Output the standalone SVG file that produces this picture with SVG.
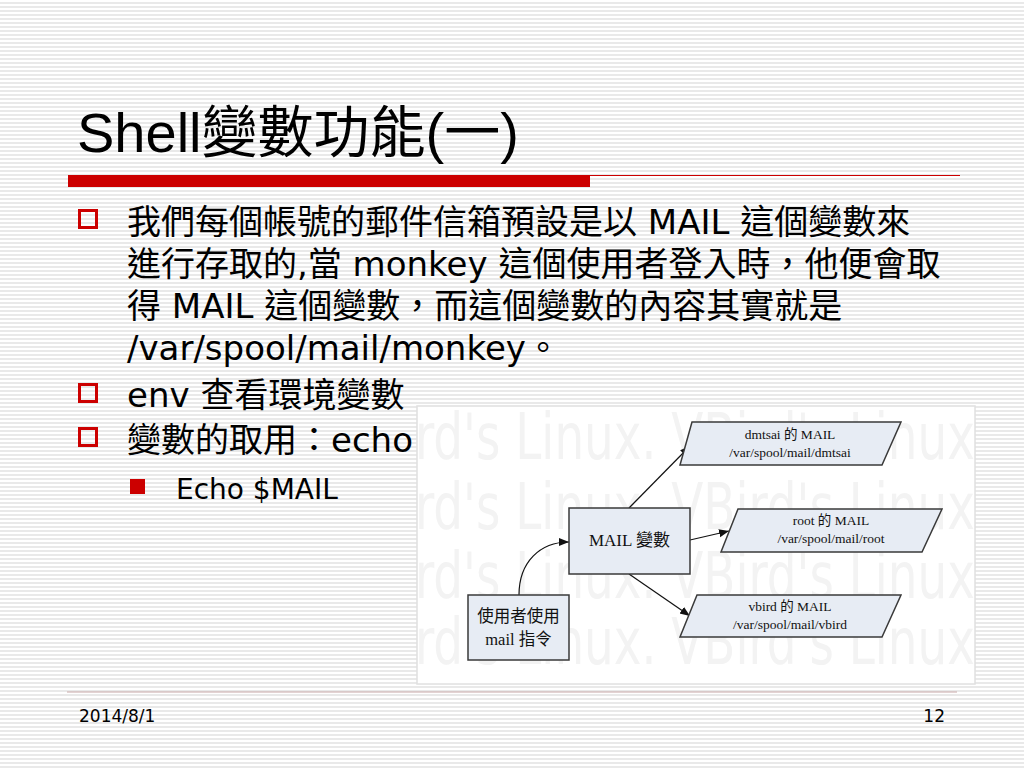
<svg xmlns="http://www.w3.org/2000/svg" width="1024" height="768" viewBox="0 0 1024 768">
<defs>
<pattern id="stripes" x="0" y="0" width="8" height="4" patternUnits="userSpaceOnUse">
<rect x="0" y="0" width="8" height="4" fill="#ffffff"/>
<rect x="0" y="2" width="8" height="2" fill="#e9e9e9"/>
</pattern>
<marker id="arr" viewBox="0 0 10 10" refX="10" refY="5" markerWidth="10" markerHeight="10" markerUnits="userSpaceOnUse" orient="auto">
<path d="M0,1 L10,5 L0,9 Z" fill="#111111"/>
</marker>
<clipPath id="picClip"><rect x="417" y="406" width="558" height="278"/></clipPath>
</defs>
<style>
.title{font-family:"Liberation Sans","Noto Sans CJK TC",sans-serif;font-size:56px;fill:#000}
.body{font-family:"DejaVu Sans","Noto Sans CJK TC",sans-serif;font-size:34px;fill:#000}
.sub{font-family:"DejaVu Sans","Noto Sans CJK TC",sans-serif;font-size:28px;fill:#000}
.foot{font-family:"DejaVu Sans",sans-serif;font-size:17px;fill:#000}
.node{fill:#e7ecf4;stroke:#3a3a3a;stroke-width:1.5}
.lbl{font-family:"Liberation Serif","Noto Sans CJK TC",serif;font-size:13.5px;fill:#111;text-anchor:middle}
.big{font-family:"Liberation Serif","Noto Sans CJK TC",serif;font-size:17px;fill:#111;text-anchor:middle}
.wm{font-family:"DejaVu Sans Condensed","DejaVu Sans",sans-serif;font-size:64px;fill:#f3f3f3}
.conn{fill:none;stroke:#111;stroke-width:1.2;marker-end:url(#arr)}
</style>
<rect x="0" y="0" width="1024" height="768" fill="url(#stripes)"/>

<g id="title">
<text class="title" x="77" y="152">Shell變數功能(一)</text>
<rect x="68" y="175" width="522" height="12" fill="#cc0000"/>
<line x1="590" y1="175.5" x2="960" y2="175.5" stroke="#cc0000" stroke-width="1"/>
</g>

<g id="bullets">
<rect x="79.5" y="210.5" width="17" height="17" fill="none" stroke="#cc0000" stroke-width="3"/>
<text class="body" x="127" y="234">我們每個帳號的郵件信箱預設是以 MAIL 這個變數來</text>
<text class="body" x="127" y="276">進行存取的,當 monkey 這個使用者登入時，他便會取</text>
<text class="body" x="127" y="318">得 MAIL 這個變數，而這個變數的內容其實就是</text>
<text class="body" x="127" y="360">/var/spool/mail/monkey。</text>
<rect x="79.5" y="384.5" width="17" height="17" fill="none" stroke="#cc0000" stroke-width="3"/>
<text class="body" x="127" y="407">env 查看環境變數</text>
<rect x="79.5" y="428.5" width="17" height="17" fill="none" stroke="#cc0000" stroke-width="3"/>
<text class="body" x="127" y="452">變數的取用：echo</text>
<rect x="130" y="479" width="15" height="15" fill="#cc0000"/>
<text class="sub" x="176" y="499">Echo $MAIL</text>
</g>

<g id="picture">
<rect x="417" y="406" width="558" height="278" fill="#ffffff" stroke="#e0e0e0" stroke-width="1.5"/>
<g clip-path="url(#picClip)">
<text class="wm" x="415" y="459" textLength="560" lengthAdjust="spacingAndGlyphs">rd's Linux. VBird's Linux</text>
<text class="wm" x="415" y="529" textLength="560" lengthAdjust="spacingAndGlyphs">rd's Linux. VBird's Linux</text>
<text class="wm" x="415" y="598" textLength="560" lengthAdjust="spacingAndGlyphs">rd's Linux. VBird's Linux</text>
<text class="wm" x="415" y="664" textLength="560" lengthAdjust="spacingAndGlyphs">rd's Linux. VBird's Linux</text>
</g>
</g>

<g id="connectors">
<path class="conn" d="M629,508 L690,446"/>
<path class="conn" d="M690,540 L729,531"/>
<path class="conn" d="M629,574 L690,616"/>
<path class="conn" d="M519,595 C519,562 540,542 569,542"/>
</g>

<g id="node-user">
<rect class="node" x="468" y="595" width="101" height="65"/>
<text class="lbl" x="518.5" y="622" style="font-size:16.5px">使用者使用</text>
<text class="lbl" x="518.5" y="645" style="font-size:16.5px">mail 指令</text>
</g>

<g id="node-mailvar">
<rect class="node" x="569" y="508" width="121" height="66"/>
<text class="big" x="629.5" y="546">MAIL 變數</text>
</g>

<g id="node-dmtsai">
<polygon class="node" points="692,422 901,422 882,465 680,465"/>
<text class="lbl" x="790" y="439">dmtsai 的 MAIL</text>
<text class="lbl" x="790" y="457">/var/spool/mail/dmtsai</text>
</g>

<g id="node-root">
<polygon class="node" points="738,509 942,509 922,552 721,552"/>
<text class="lbl" x="831" y="525">root 的 MAIL</text>
<text class="lbl" x="831" y="543">/var/spool/mail/root</text>
</g>

<g id="node-vbird">
<polygon class="node" points="697,595 901,595 882,637 680,637"/>
<text class="lbl" x="790" y="611">vbird 的 MAIL</text>
<text class="lbl" x="790" y="629">/var/spool/mail/vbird</text>
</g>

<g id="footer">
<line x1="67" y1="692" x2="957" y2="692" stroke="#c8a8a8" stroke-width="1"/>
<text class="foot" x="79" y="722">2014/8/1</text>
<text class="foot" x="945" y="722" text-anchor="end">12</text>
</g>
</svg>
